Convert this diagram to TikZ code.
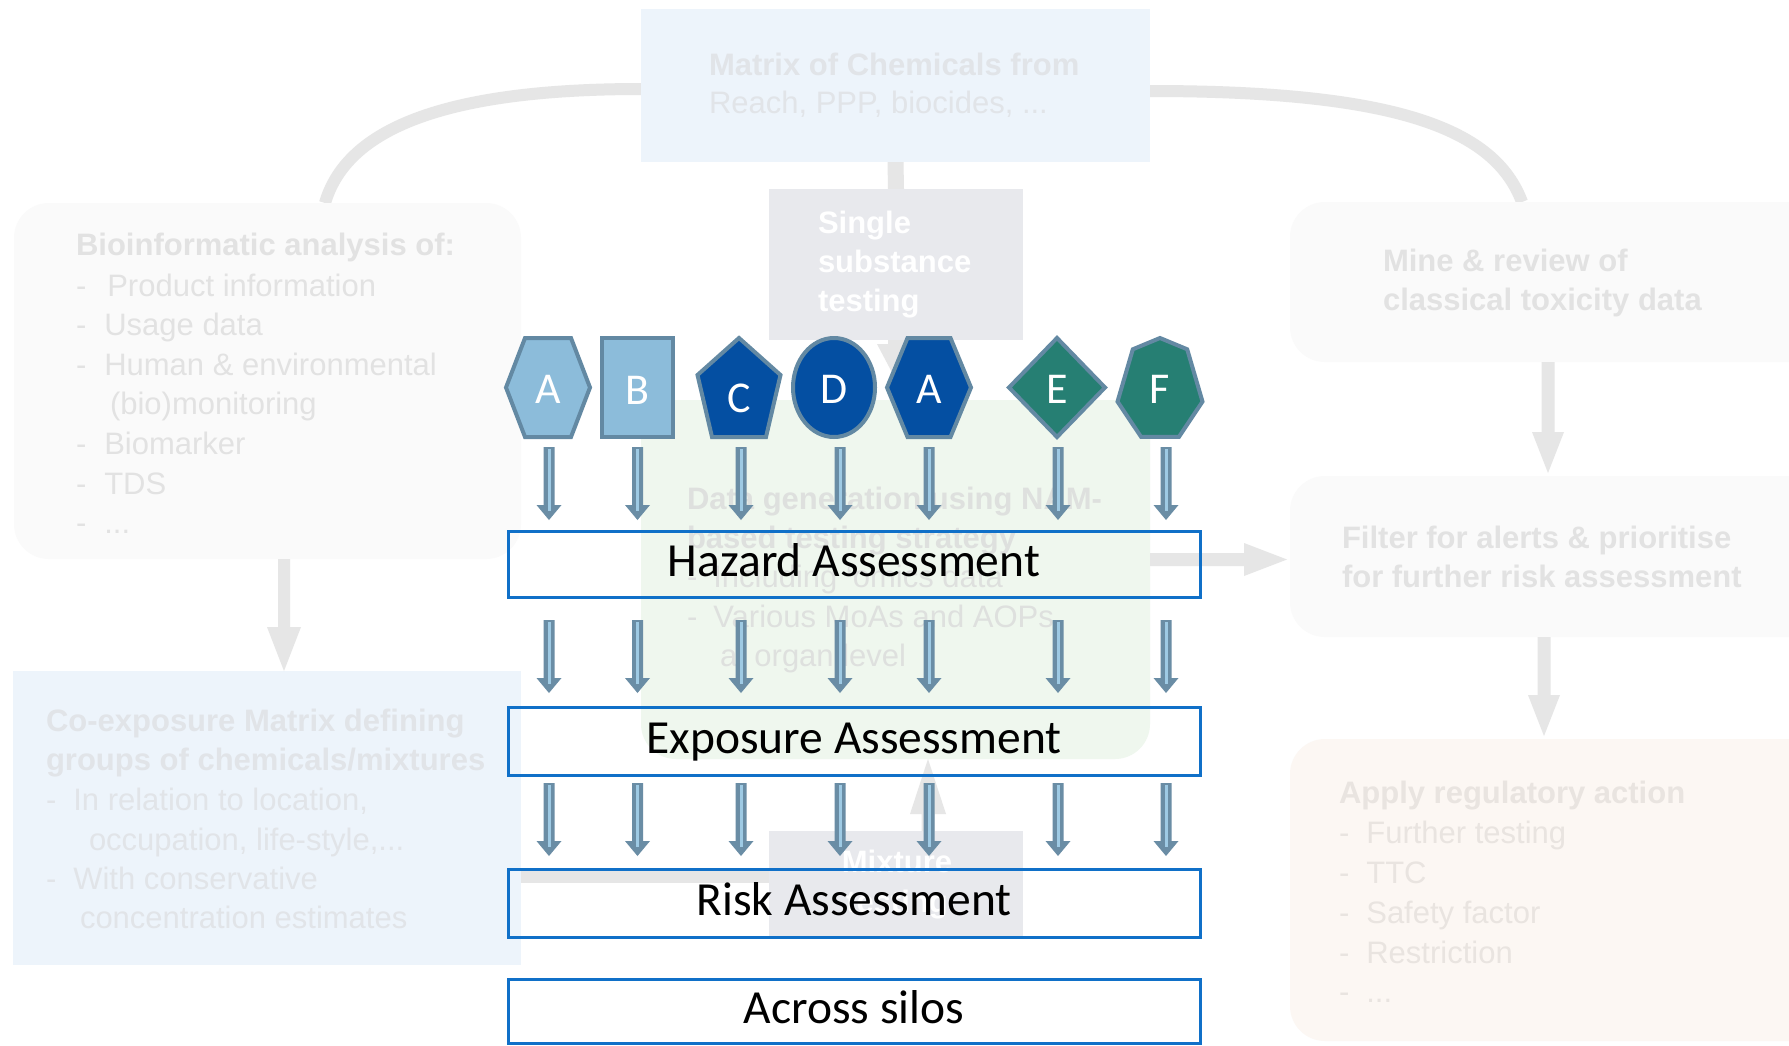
\documentclass[tikz,border=0pt]{standalone}
\usepackage{fontspec}
\setmainfont{Liberation Sans}
\newfontfamily\calib{Carlito}
\usetikzlibrary{calc}
\pgfdeclarelayer{bglayer}
\pgfsetlayers{bglayer,main}

\definecolor{bgline}{HTML}{E6E6E6}
\definecolor{mxfill}{HTML}{EDF4FB}
\definecolor{grfill}{HTML}{FAFAFA}
\definecolor{ssfill}{HTML}{E8E9ED}
\definecolor{gnfill}{HTML}{EFF7EE}
\definecolor{apfill}{HTML}{FCF7F3}
\definecolor{txgray}{HTML}{E2E2E2}
\definecolor{txblue}{HTML}{E1E4E8}
\definecolor{txgreen}{HTML}{DEE0DE}
\definecolor{txapply}{HTML}{E9E4E0}
\definecolor{boxblue}{HTML}{1070C8}
\definecolor{slate}{HTML}{6A8DA5}
\definecolor{stripe}{HTML}{9ECAE4}
\definecolor{shpborder}{HTML}{6389A3}
\definecolor{lblue}{HTML}{8CBCDA}
\definecolor{dblue}{HTML}{044FA2}
\definecolor{tealc}{HTML}{267F73}

\newcommand\bgf{\fontsize{31}{37}\selectfont}

% vertical arrow pointing down: color, from, to, half shaft, half head, head length
\newcommand\arrdown[6]{\fill[#1] let \p1=#2, \p2=#3 in
  (\x1-#4,\y1) -- (\x1+#4,\y1) -- (\x1+#4,\y2+#6) -- (\x1+#5,\y2+#6) -- (\x1,\y2)
  -- (\x1-#5,\y2+#6) -- (\x1-#4,\y2+#6) -- cycle;}
\newcommand\arrup[6]{\fill[#1] let \p1=#2, \p2=#3 in
  (\x1-#4,\y1) -- (\x1+#4,\y1) -- (\x1+#4,\y2-#6) -- (\x1+#5,\y2-#6) -- (\x1,\y2)
  -- (\x1-#5,\y2-#6) -- (\x1-#4,\y2-#6) -- cycle;}
\newcommand\arrright[6]{\fill[#1] let \p1=#2, \p2=#3 in
  (\x1,\y1+#4) -- (\x2-#6,\y1+#4) -- (\x2-#6,\y1+#5) -- (\x2,\y1)
  -- (\x2-#6,\y1-#5) -- (\x2-#6,\y1-#4) -- (\x1,\y1-#4) -- cycle;}
\newcommand\blarrow[2]{\arrdown{slate}{#1}{#2}{5.5pt}{12.5pt}{15pt}%
  \fill[stripe] let \p1=#1, \p2=#2 in (\x1-1.5pt,\y1-2pt) rectangle (\x1+1.5pt,\y2+9pt);}

\tikzset{
  every node/.style={outer sep=0pt},
  bgbox/.style={inner sep=0pt, outer sep=0pt},
  bgt/.style={anchor=base west, inner sep=0pt, font=\bgf},
  bgtb/.style={anchor=base west, inner sep=0pt, font=\bgf\bfseries},
  gline/.style={draw=bgline, line width=12pt},
  mainbox/.style={draw=boxblue, line width=3pt, minimum width=692pt, inner sep=0pt,
    font=\calib\fontsize{47.5}{57}\selectfont, text height=30pt, text depth=5pt},
  shp/.style={draw=shpborder, line width=4pt, line join=miter},
  lbl/.style={text=white, font=\calib\fontsize{44}{50}\selectfont, inner sep=0pt,
    text height=28pt, text depth=0pt}
}

\begin{document}
\begin{tikzpicture}[x=1pt, y=-1pt]
\useasboundingbox (0,0) rectangle (1789,1045);
\clip (0,0) rectangle (1789,1045);

% ---------- background boxes ----------
\node[bgbox, fill=mxfill, minimum width=509pt, minimum height=153pt] (mtx) at (895.5,85.5) {};
\node[bgbox, fill=grfill, rounded corners=35pt, minimum width=507pt, minimum height=356pt] (bio) at (267.5,381) {};
\node[bgbox, fill=ssfill, minimum width=254pt, minimum height=151pt] (single) at (896,264.5) {};
\node[bgbox, fill=mxfill, minimum width=508pt, minimum height=294pt] (coexp) at (267,818) {};
\node[bgbox, fill=ssfill, minimum width=254pt, minimum height=107pt] (mix) at (896,884.5) {};
\node[bgbox, fill=grfill, rounded corners=35pt, minimum width=540pt, minimum height=160pt] (mine) at (1560,282) {};
\node[bgbox, fill=grfill, rounded corners=35pt, minimum width=540pt, minimum height=161pt] (filter) at (1560,556.5) {};
\node[bgbox, fill=apfill, rounded corners=35pt, minimum width=540pt, minimum height=302pt] (apply) at (1560,890) {};
\node[bgbox, minimum width=509pt, minimum height=359pt] (green) at (895.5,579.5) {};
\fill[gnfill, rounded corners=35pt] (green.north west) rectangle (green.south east);
\fill[gnfill] (green.north west) rectangle (green.east);

% ---------- background connectors ----------
\begin{pgfonlayer}{bglayer}
\fill[white] (0,0) rectangle (1789,1045);
\draw[gline] ($(mtx.west)+(0,3.5)$) .. controls (430,89) and (345,135) .. ($(bio.north)+(57.5,0)$);
\draw[gline] ($(mtx.east)+(0,5.5)$) .. controls (1400,91) and (1495,130) .. ($(mine.north)+(-38,0)$);
\draw[draw=bgline, line width=16pt] (mtx.south) -- (single.north);
\draw[gline] ($(coexp.east)+(0,59)$) -- ($(mix.west)+(0,-7.5)$);
\end{pgfonlayer}

% ---------- background arrows ----------
\arrdown{bgline}{($(bio.south)+(16.5,0)$)}{($(coexp.north)+(17,0)$)}{6pt}{17pt}{44pt}
\arrdown{bgline}{(single.south)}{($(green.north)+(0.5,-20)$)}{8pt}{19pt}{36pt}
\arrdown{bgline}{($(mine.south)+(-12,0)$)}{($(filter.north)+(-12,-3)$)}{6.5pt}{16pt}{41pt}
\arrdown{bgline}{($(filter.south)+(-16,0)$)}{($(apply.north)+(-16,-3)$)}{6.5pt}{16pt}{41pt}
\arrright{bgline}{($(green.east |- filter.west)+(0,3)$)}{($(filter.west)+(-3,3)$)}{6.5pt}{16.5pt}{43pt}
\arrup{bgline}{($(mix.north)+(32,0)$)}{($(green.south)+(32.5,0)$)}{6.5pt}{18pt}{55pt}

% ---------- background texts ----------
\node[bgtb, text=txblue] (mtxt1) at (709,75) {Matrix of Chemicals from};
\node[bgt, text=txblue] (mtxt2) at (709,113) {Reach, PPP, biocides, ...};

\node[bgtb, text=txgray] (biot1) at (76,255) {Bioinformatic analysis of:};
\node[bgt, text=txgray] (biot2) at (76,296) {-\hspace{21pt}Product information};
\node[bgt, text=txgray] (biot3) at (76,335.5) {-\hspace{18pt}Usage data};
\node[bgt, text=txgray] (biot4) at (76,375) {-\hspace{18pt}Human \& environmental};
\node[bgt, text=txgray] (biot5) at (76,414.5) {\hspace{34pt}(bio)monitoring};
\node[bgt, text=txgray] (biot6) at (76,454) {-\hspace{18pt}Biomarker};
\node[bgt, text=txgray] (biot7) at (76,494) {-\hspace{18pt}TDS};
\node[bgt, text=txgray] (biot8) at (76,533) {-\hspace{18pt}...};

\node[bgtb, text=white] (sst1) at (818,233) {Single};
\node[bgtb, text=white] (sst2) at (818,272) {substance};
\node[bgtb, text=white] (sst3) at (818,311) {testing};

\node[bgtb, text=txgreen] (gnt1) at (687,509) {Data generation using NAM-};
\node[bgtb, text=txgreen] (gnt2) at (687,548) {based testing strategy};
\node[bgt, text=txgreen] (gnt3) at (687,587) {-\hspace{16pt}Including ‘omics data};
\node[bgt, text=txgreen] (gnt4) at (687,627) {-\hspace{16pt}Various MoAs and AOPs};
\node[bgt, text=txgreen] (gnt5) at (687,666) {\hspace{33pt}at organ level};

\node[bgtb, text=txblue] (cot1) at (46,731) {Co-exposure Matrix defining};
\node[bgtb, text=txblue] (cot2) at (46,770) {groups of chemicals/mixtures};
\node[bgt, text=txblue] (cot3) at (46,810) {-\hspace{17pt}In relation to location,};
\node[bgt, text=txblue] (cot4) at (46,850) {\hspace{43pt}occupation, life-style,...};
\node[bgt, text=txblue] (cot5) at (46,889) {-\hspace{17pt}With conservative};
\node[bgt, text=txblue] (cot6) at (46,928) {\hspace{34pt}concentration estimates};

\node[anchor=base, inner sep=0pt, font=\bgf\bfseries, text=white] (mixt1) at (897,872) {Mixture};
\node[anchor=base, inner sep=0pt, font=\bgf\bfseries, text=white] (mixt2) at (897,912) {testing};

\node[bgtb, text=txgray] (minet1) at (1383,271) {Mine \& review of};
\node[bgtb, text=txgray] (minet2) at (1383,310) {classical toxicity data};

\node[bgtb, text=txgray] (filt1) at (1342,548) {Filter for alerts \& prioritise};
\node[bgtb, text=txgray] (filt2) at (1342,587) {for further risk assessment};

\node[bgtb, text=txapply] (apt1) at (1339,803) {Apply regulatory action};
\node[bgt, text=txapply] (apt2) at (1339,843) {-\hspace{17pt}Further testing};
\node[bgt, text=txapply] (apt3) at (1339,883) {-\hspace{17pt}TTC};
\node[bgt, text=txapply] (apt4) at (1339,923) {-\hspace{17pt}Safety factor};
\node[bgt, text=txapply] (apt5) at (1339,963) {-\hspace{17pt}Restriction};
\node[bgt, text=txapply] (apt6) at (1339,1002) {-\hspace{17pt}...};

% ---------- foreground shapes ----------
\coordinate (cA1) at (548,387.5);
\coordinate (cB) at (637.5,387.5);
\coordinate (cC) at (739,387.5);
\coordinate (cD) at (834,387.5);
\coordinate (cA2) at (929,387.5);
\coordinate (cE) at (1057,387.5);
\coordinate (cF) at (1160,387.5);

\filldraw[shp, fill=lblue, shift={(cA1)}] (-42,0) -- (-23,-49.5) -- (23,-49.5) -- (42,0) -- (23,49.5) -- (-23,49.5) -- cycle;
\filldraw[shp, fill=lblue, shift={(cB)}] (-35.5,-49.5) rectangle (35.5,49.5);
\filldraw[shp, fill=dblue, shift={(cC)}] (0,-49.5) -- (41.5,-12.5) -- (27,49.5) -- (-27,49.5) -- (-41.5,-12.5) -- cycle;
\filldraw[shp, fill=dblue] (cD) ellipse [x radius=41pt, y radius=49.5pt];
\filldraw[shp, fill=dblue, shift={(cA2)}] (-42,0) -- (-21.5,-49.5) -- (21.5,-49.5) -- (42,0) -- (21.5,49.5) -- (-21.5,49.5) -- cycle;
\filldraw[shp, fill=tealc, shift={(cE)}] (0,-49.5) -- (48,0) -- (0,49.5) -- (-48,0) -- cycle;
\filldraw[shp, fill=tealc, shift={(cF)}] (0,-49.5) -- (27.2,-38.2) -- (42.5,14.1) -- (18.9,49.4) -- (-18.9,49.4) -- (-42.5,14.1) -- (-27.2,-38.2) -- cycle;

\node[lbl] (sA1) at ($(cA1)+(0,1.5)$) {A};
\node[lbl] (sB) at ($(cB)+(0,3)$) {B};
\node[lbl] (sC) at ($(cC)+(0,11)$) {C};
\node[lbl] (sD) at ($(cD)+(0,1.5)$) {D};
\node[lbl] (sA2) at ($(cA2)+(0,1.5)$) {A};
\node[lbl] (sE) at ($(cE)+(0,1.5)$) {E};
\node[lbl] (sF) at ($(cF)+(0,1.5)$) {F};

% ---------- central boxes ----------
\node[mainbox, minimum height=66pt] (haz) at (854,564) {Hazard Assessment};
\node[mainbox, minimum height=68pt] (expo) at (854,741) {Exposure Assessment};
\node[mainbox, minimum height=68pt] (risk) at (854,903) {Risk Assessment};
\node[mainbox, minimum height=64pt] (across) at (854,1011) {Across silos};

% ---------- blue arrows ----------
\foreach \s/\dx in {cA1/1,cB/0,cC/2,cD/6,cA2/0,cE/1,cF/6}{
  \blarrow{($(\s)+(\dx,59.5)$)}{($(\s |- haz.north)+(\dx,-11)$)}
  \blarrow{($(\s |- haz.south)+(\dx,23)$)}{($(\s |- expo.north)+(\dx,-14)$)}
  \blarrow{($(\s |- expo.south)+(\dx,8)$)}{($(\s |- risk.north)+(\dx,-13)$)}
}
\end{tikzpicture}
\end{document}
